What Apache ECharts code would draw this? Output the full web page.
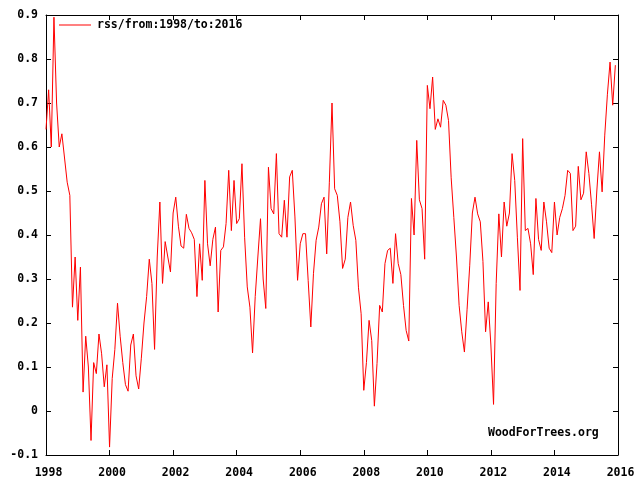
<!DOCTYPE html>
<html>
<head>
<meta charset="utf-8">
<script src="https://cdn.jsdelivr.net/npm/echarts@6/dist/echarts.min.js"></script>
<style>
html,body{margin:0;padding:0;background:#fff;}
#chart{width:640px;height:480px;}
</style>
</head>
<body>
<div id="chart"></div>
<script>
// Monthly values, Jan..Dec of each year
const y1998 = [0.64, 0.73, 0.60, 0.895, 0.70, 0.60, 0.63, 0.575, 0.52, 0.49, 0.236, 0.35];
const y1999 = [0.206, 0.327, 0.043, 0.17, 0.10, -0.067, 0.11, 0.085, 0.175, 0.13, 0.055, 0.105];
const y2000 = [-0.082, 0.074, 0.14, 0.245, 0.17, 0.11, 0.06, 0.045, 0.15, 0.175, 0.08, 0.05];
const y2001 = [0.12, 0.2, 0.26, 0.345, 0.29, 0.14, 0.35, 0.475, 0.29, 0.385, 0.35, 0.316];
const y2002 = [0.45, 0.486, 0.42, 0.375, 0.37, 0.447, 0.415, 0.405, 0.39, 0.26, 0.38, 0.297];
const y2003 = [0.524, 0.38, 0.33, 0.39, 0.418, 0.225, 0.365, 0.373, 0.426, 0.547, 0.41, 0.524];
const y2004 = [0.426, 0.437, 0.562, 0.395, 0.282, 0.236, 0.132, 0.26, 0.35, 0.437, 0.30, 0.233];
const y2005 = [0.554, 0.46, 0.448, 0.585, 0.403, 0.395, 0.479, 0.395, 0.532, 0.547, 0.441, 0.297];
const y2006 = [0.38, 0.403, 0.403, 0.297, 0.191, 0.312, 0.388, 0.418, 0.471, 0.486, 0.357, 0.52];
const y2007 = [0.70, 0.505, 0.49, 0.43, 0.324, 0.345, 0.44, 0.475, 0.422, 0.388, 0.28, 0.221];
const y2008 = [0.047, 0.11, 0.206, 0.16, 0.011, 0.108, 0.24, 0.225, 0.335, 0.365, 0.37, 0.29];
const y2009 = [0.403, 0.335, 0.31, 0.24, 0.183, 0.159, 0.483, 0.40, 0.615, 0.48, 0.46, 0.345];
const y2010 = [0.74, 0.687, 0.759, 0.64, 0.664, 0.645, 0.706, 0.695, 0.66, 0.53, 0.44, 0.35];
const y2011 = [0.24, 0.18, 0.134, 0.23, 0.33, 0.45, 0.486, 0.448, 0.43, 0.34, 0.18, 0.248];
const y2012 = [0.15, 0.015, 0.29, 0.448, 0.35, 0.475, 0.42, 0.45, 0.585, 0.524, 0.395, 0.274];
const y2013 = [0.619, 0.41, 0.415, 0.38, 0.31, 0.483, 0.39, 0.365, 0.475, 0.43, 0.37, 0.36];
const y2014 = [0.475, 0.40, 0.44, 0.46, 0.49, 0.547, 0.54, 0.41, 0.42, 0.556, 0.48, 0.495];
const y2015 = [0.589, 0.54, 0.47, 0.392, 0.50, 0.589, 0.498, 0.627, 0.72, 0.793, 0.695, 0.786];

const years = [1998,1999,2000,2001,2002,2003,2004,2005,2006,2007,2008,2009,2010,2011,2012,2013,2014,2015];
const yearly = [y1998,y1999,y2000,y2001,y2002,y2003,y2004,y2005,y2006,y2007,y2008,y2009,y2010,y2011,y2012,y2013,y2014,y2015];
const seriesName = 'rss/from:1998/to:2016';
const watermark = 'WoodForTrees.org';

const data = [];
years.forEach((yr, k) => {
  yearly[k].forEach((v, m) => data.push([yr + m / 12, v]));
});

const FONT = '"DejaVu Sans Mono", "Liberation Mono", monospace';
const tickStyle = { show: true, inside: true, length: 5, lineStyle: { color: '#000', width: 1 } };
const lineStyle = { show: true, onZero: false, lineStyle: { color: '#000', width: 1 } };

const chart = echarts.init(document.getElementById('chart'), null, { renderer: 'canvas' });
chart.setOption({
  animation: false,
  backgroundColor: '#fff',
  grid: { left: 46, right: 22, top: 15, bottom: 25, containLabel: false },
  legend: {
    data: [seriesName],
    left: 59, top: 18, padding: 0,
    icon: 'rect', itemWidth: 32, itemHeight: 1,
    selectedMode: false,
    textStyle: { fontFamily: FONT, fontWeight: 'bold', fontSize: 11.5, color: '#000', lineHeight: 14, padding: [0, 0, 0, 1] }
  },
  graphic: [{
    type: 'text', left: 488, top: 427, silent: true,
    style: { text: watermark, font: 'bold 11.5px ' + FONT, fill: '#000' }
  }],
  xAxis: [{
    type: 'value', min: 1998, max: 2016, interval: 2, position: 'bottom',
    axisLine: lineStyle, axisTick: tickStyle, splitLine: { show: false },
    axisLabel: { margin: 12, color: '#000', fontFamily: FONT, fontWeight: 'bold', fontSize: 11.5,
      padding: [0, 0, 0, 5], formatter: v => String(v) }
  }, {
    type: 'value', min: 1998, max: 2016, interval: 2, position: 'top',
    axisLine: lineStyle, axisTick: tickStyle, splitLine: { show: false }, axisLabel: { show: false }
  }],
  yAxis: [{
    type: 'value', min: -0.1, max: 0.9, interval: 0.1, position: 'left',
    axisLine: lineStyle, axisTick: tickStyle,
    splitLine: { show: false },
    axisLabel: { margin: 8, color: '#000', fontFamily: FONT, fontWeight: 'bold', fontSize: 11.5,
      formatter: v => String(Math.round(v * 10) / 10) }
  }, {
    type: 'value', min: -0.1, max: 0.9, interval: 0.1, position: 'right',
    axisLine: lineStyle, axisTick: tickStyle,
    splitLine: { show: false }, axisLabel: { show: false }
  }],
  series: [{
    name: seriesName, type: 'line', xAxisIndex: 0, yAxisIndex: 0,
    data: data, symbol: 'none', showSymbol: false, clip: true,
    lineStyle: { color: '#ff0000', width: 1 }, itemStyle: { color: '#ff0000' },
    emphasis: { disabled: true }
  }]
});
</script>
</body>
</html>
